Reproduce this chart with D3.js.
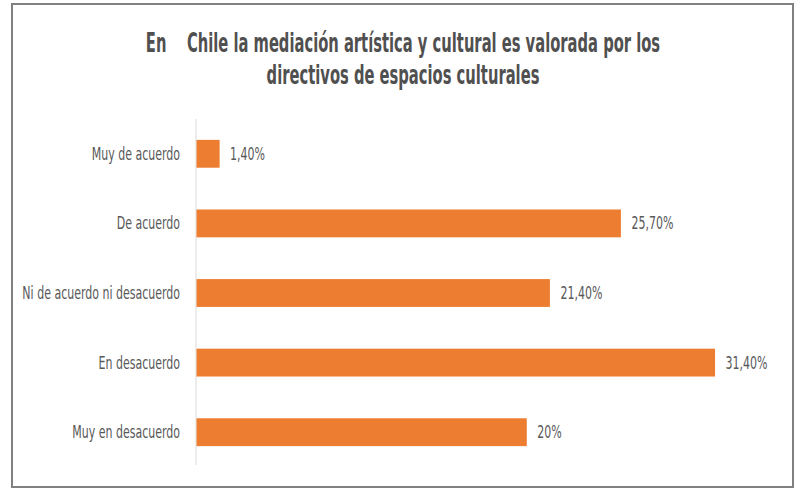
<!DOCTYPE html>
<html>
<head>
<meta charset="utf-8">
<script src="https://cdn.jsdelivr.net/npm/d3@7"></script>
<style>
  html, body { margin: 0; padding: 0; background: #fff; }
  svg { display: block; }
  text { white-space: pre; }
</style>
</head>
<body>
<svg id="chart" width="801" height="489"></svg>
<script>
const titleLines = ["En    Chile la mediación artística y cultural es valorada por los", "directivos de espacios culturales"];
const categories = ["Muy de acuerdo", "De acuerdo", "Ni de acuerdo ni desacuerdo", "En desacuerdo", "Muy en desacuerdo"];
const values = [1.4, 25.7, 21.4, 31.4, 20];
const valueLabels = ["1,40%", "25,70%", "21,40%", "31,40%", "20%"];

const svg = d3.select("#chart");
const W = 801, H = 489;
const FONT = "'DejaVu Sans Condensed', 'DejaVu Sans', sans-serif";
const TEXT_COLOR = "#595959";
const BAR_COLOR = "#ED7D31";
const LABEL_SX = 0.72, TITLE_SX = 0.63;

svg.append("rect").attr("width", W).attr("height", H).attr("fill", "#fff");
// frame
svg.append("rect")
  .attr("x", 12).attr("y", 4).attr("width", 781).attr("height", 483)
  .attr("fill", "none").attr("stroke", "#808080").attr("stroke-width", 2);

// title
titleLines.forEach((t, i) => {
  svg.append("text")
    .attr("transform", `translate(403,${52 + i * 32}) scale(${TITLE_SX},1)`)
    .attr("text-anchor", "middle")
    .attr("font-family", FONT)
    .attr("font-stretch", "condensed")
    .attr("font-weight", "bold")
    .attr("font-size", 26)
    .attr("fill", "#505050")
    .text(t);
});

const x = d3.scaleLinear().domain([0, 35]).range([196, 774]);
const y = d3.scaleBand().domain(categories).range([119, 467]).paddingInner(0.6).paddingOuter(0.3);

// category axis line
svg.append("line")
  .attr("x1", x(0)).attr("x2", x(0))
  .attr("y1", y.range()[0]).attr("y2", y.range()[1] - 2)
  .attr("stroke", "#d9d9d9").attr("stroke-width", 1);

// bars
svg.selectAll("rect.bar").data(values).join("rect")
  .attr("class", "bar")
  .attr("x", x(0) + 0.5)
  .attr("y", (d, i) => y(categories[i]))
  .attr("width", d => x(d) - x(0))
  .attr("height", y.bandwidth())
  .attr("fill", BAR_COLOR);

// category labels
svg.selectAll("text.cat").data(categories).join("text")
  .attr("class", "cat")
  .attr("transform", d => `translate(${x(0) - 16},${y(d) + y.bandwidth() / 2 + 6}) scale(${LABEL_SX},1)`)
  .attr("text-anchor", "end")
  .attr("font-family", FONT)
  .attr("font-stretch", "condensed")
  .attr("font-size", 17)
  .attr("fill", TEXT_COLOR)
  .text(d => d);

// value labels
svg.selectAll("text.val").data(values).join("text")
  .attr("class", "val")
  .attr("transform", (d, i) => `translate(${x(d) + 11},${y(categories[i]) + y.bandwidth() / 2 + 6}) scale(${LABEL_SX},1)`)
  .attr("text-anchor", "start")
  .attr("font-family", FONT)
  .attr("font-stretch", "condensed")
  .attr("font-size", 17)
  .attr("fill", TEXT_COLOR)
  .text((d, i) => valueLabels[i]);
</script>
</body>
</html>
